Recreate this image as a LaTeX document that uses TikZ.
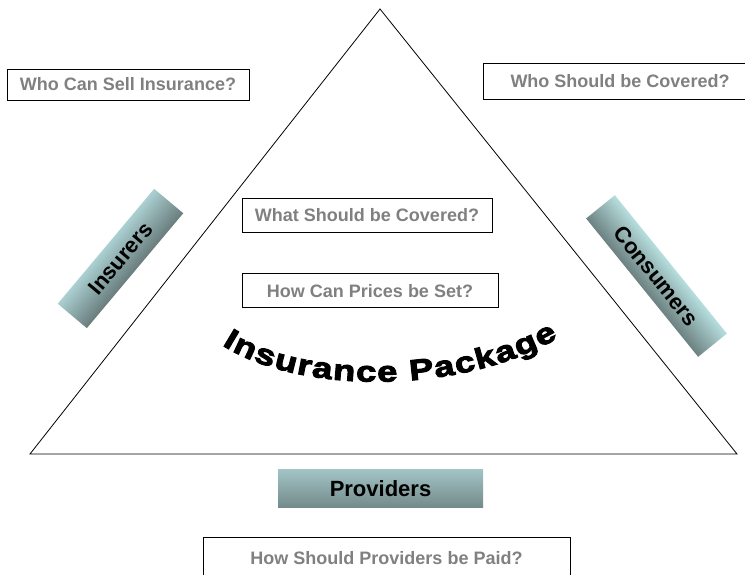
\documentclass[tikz,border=0pt]{standalone}
\usepackage{fontspec}
\setmainfont{Liberation Sans}
\newfontfamily\wordart{Liberation Sans}[UprightFont={* Bold}, FakeBold=3.5, FakeStretch=1.25]
\usetikzlibrary{calc}
\usetikzlibrary{positioning}
\usetikzlibrary{decorations.text}

\definecolor{textgray}{RGB}{128,128,128}
\definecolor{lightteal}{RGB}{184,224,226}
\definecolor{lightcyan}{RGB}{200,244,244}
\definecolor{darkteal}{RGB}{92,108,108}

% dark to light across the band of a tilted box
\pgfdeclareverticalshading{insband}{100bp}{color(0bp)=(darkteal); color(40bp)=(darkteal); color(60bp)=(lightteal); color(100bp)=(lightteal)}
\pgfdeclareverticalshading{conband}{100bp}{color(0bp)=(darkteal); color(41bp)=(darkteal); color(59bp)=(lightcyan); color(100bp)=(lightcyan)}
\pgfdeclareverticalshading{provband}{100bp}{color(0bp)=(darkteal); color(100bp)=(lightteal)}

\begin{document}
\begin{tikzpicture}[x=1pt,y=1pt,
    question/.style = {draw, line width=0.8pt, text=textgray, inner sep=0pt,
        font=\fontsize{18}{18}\selectfont\bfseries},
    party/.style = {inner sep=0pt, font=\fontsize{22}{22}\selectfont\bfseries}]
\useasboundingbox (0,0) rectangle (745,575);

% the triangle
\coordinate (apex) at (380,566);
\coordinate (left) at (30,121);
\coordinate (right) at (737,121);
\draw [line width=0.8pt] (apex) -- (left) -- (right) -- cycle;

% the three parties
\node [party, shading=insband, shading angle=50, minimum width=150, minimum height=38, rotate=50] (insurers) at (120.5,316.5) {Insurers};
\node [party, shading=conband, shading angle=-51, minimum width=178, minimum height=37, rotate=-51] (consumers) at (656.5,299) {Consumers};
\node [party, shading=provband, minimum width=205, minimum height=38] (providers) at (380.5,86) {Providers};

% the questions
\node [question, minimum width=242, minimum height=31] (sell) at (128,490.5) {Who Can Sell Insurance?};
\node [question, minimum width=274, minimum height=36] (covwho) at (620,494) {Who Should be Covered?};
\node [question, minimum width=250, minimum height=34] (covwhat) at (367,360) {What Should be Covered?};
\node [question, minimum width=256, minimum height=34, below=41 of covwhat.south west, anchor=north west] (prices) {How Can Prices be Set?};
\node [question, minimum width=367, minimum height=43] (paid) at (386.5,16.5) {How Should Providers be Paid?};

% the arched title
\path [decorate, decoration={text along path, text align={fit to path},
        text={|\wordart\fontsize{29}{29}\selectfont|Insurance Package}}]
    (222,230) .. controls (300,180) and (460,180) .. (558,237);
\end{tikzpicture}
\end{document}
